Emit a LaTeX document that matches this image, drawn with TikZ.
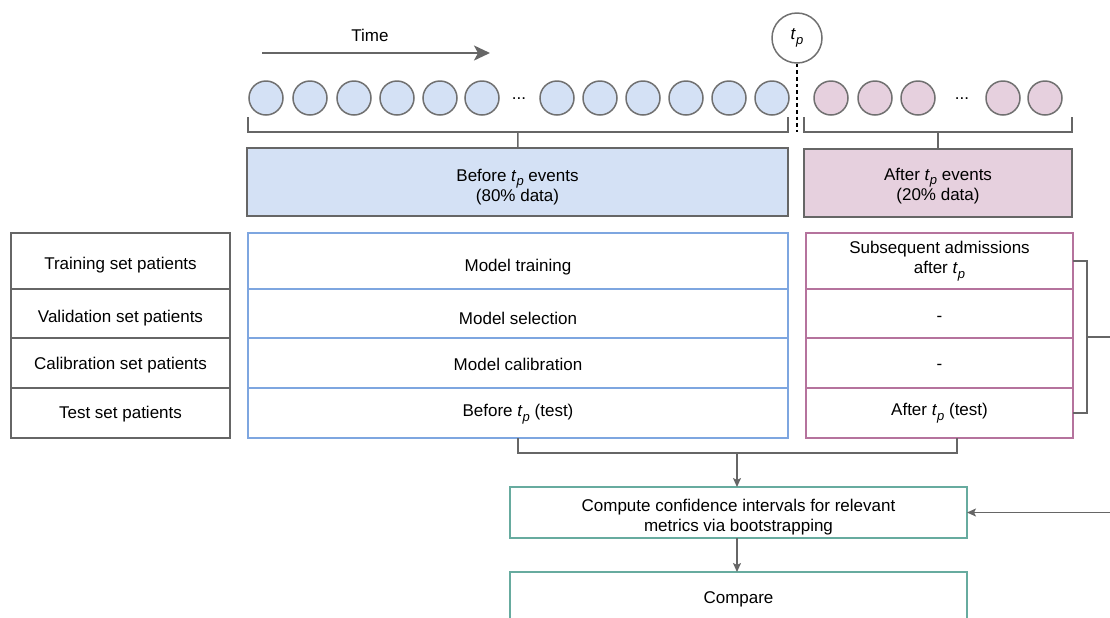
\documentclass[tikz,border=0pt]{standalone}
\usepackage{fontspec}
\setmainfont{Liberation Sans}
\usetikzlibrary{arrows.meta}
\definecolor{linegray}{HTML}{666666}
\definecolor{dotgray}{HTML}{707070}
\definecolor{eventblue}{HTML}{D4E1F5}
\definecolor{eventpink}{HTML}{E6D0DE}
\definecolor{splitblue}{HTML}{7EA6E0}
\definecolor{splitpink}{HTML}{B5739D}
\definecolor{teal}{HTML}{67AB9F}
\newcommand{\tp}{\textit{t}\raisebox{-0.5ex}{\fontsize{6.5}{6.5}\selectfont\itshape p}}
\newcommand{\cell}[8][-2.5pt]{% zamik besedila, ime, x levo, y zgoraj, x desno, y spodaj, slog, besedilo
 \pgfmathsetmacro{\Wd}{(#5-#3)/2}
 \pgfmathsetmacro{\Ht}{(#6-#4)/2}
 \node[#7, minimum width=\Wd pt, minimum height=\Ht pt] (#2) at ({(#3+#5)/2},{(#4+#6)/2}) {};
 \node[align=center, inner sep=0pt, yshift=#1] (#2txt) at (#2.center) {#8};
}
\begin{document}
\begin{tikzpicture}[x=0.5pt,y=-0.5pt,font=\fontsize{8.5}{10}\selectfont,
	dot/.style={circle,draw=dotgray,line width=0.75pt,minimum size=17pt,inner sep=0pt},
	bluedot/.style={dot,fill=eventblue},
	pinkdot/.style={dot,fill=eventpink},
	cellbox/.style={draw,line width=0.6pt,inner sep=0pt,outer sep=0pt},
	link/.style={draw=linegray,line width=0.75pt},
	arr/.style={link,-{Stealth[length=4.5pt,width=4pt,inset=1pt]}}]
	\useasboundingbox (0,0) rectangle (1110,617);

	% os casa
	\coordinate (t0) at (262,53);
	\coordinate (t1) at (490,53);
	\node (time) at (370,35) {Time};
	\draw[draw=linegray,line width=1pt,-{Stealth[length=8pt,width=7.5pt,inset=2pt]}] (t0) -- (t1);

	% dogodki pred in po t_p
	\foreach \x [count=\i] in {266,310,354,397,440,482,557,600,643,686,729,772}
		\node[bluedot] (b\i) at (\x,98) {};
	\foreach \x [count=\i] in {831,875,918,1003,1045}
		\node[pinkdot] (p\i) at (\x,98) {};
	\node (bdots) at (519,99) {...};
	\node (pdots) at (962,99) {...};

	\node[circle,draw=dotgray,line width=0.75pt,minimum size=25pt,inner sep=0pt] (tp) at (797,38) {\tp};
	\coordinate (tpend) at (797,132);
	\draw[line width=0.75pt,dash pattern=on 1.8pt off 1.5pt] (tp) -- (tpend);

	\cell{before}{247}{148}{788}{216}{cellbox,draw=linegray,line width=0.75pt,fill=eventblue}{Before \tp{} events\\(80\% data)}
	\cell[-1.5pt]{after}{804}{149}{1072}{217}{cellbox,draw=linegray,line width=0.75pt,fill=eventpink}{After \tp{} events\\(20\% data)}

	% oklepaja
	\coordinate (lb) at (518,132);
	\coordinate (rb) at (938,132);
	\draw[link] (248,117) |- (788,132) -- (788,117);
	\draw[link] (804,117) |- (1072,132) -- (1072,117);
	\draw[link] (lb) -- (before);
	\draw[link] (rb) -- (after);

	% tabela
	\cell[-2pt]{set1}{11}{233}{230}{289}{cellbox,draw=linegray}{Training set patients}
	\cell[-2.5pt]{set2}{11}{289}{230}{338}{cellbox,draw=linegray}{Validation set patients}
	\cell[-1pt]{set3}{11}{338}{230}{388}{cellbox,draw=linegray}{Calibration set patients}
	\cell[-0.5pt]{set4}{11}{388}{230}{438}{cellbox,draw=linegray}{Test set patients}

	\cell[-3pt]{blue1}{248}{233}{788}{289}{cellbox,draw=splitblue}{Model training}
	\cell[-2.5pt]{blue2}{248}{289}{788}{338}{cellbox,draw=splitblue}{Model selection}
	\cell[-0.5pt]{blue3}{248}{338}{788}{388}{cellbox,draw=splitblue}{Model calibration}
	\cell[-0.5pt]{blue4}{248}{388}{788}{438}{cellbox,draw=splitblue}{Before \tp{} (test)}

	\cell[0pt]{pink1}{806}{233}{1073}{289}{cellbox,draw=splitpink}{Subsequent admissions\\after \tp}
	\cell[-2.5pt]{pink2}{806}{289}{1073}{338}{cellbox,draw=splitpink}{-}
	\cell[-2pt]{pink3}{806}{338}{1073}{388}{cellbox,draw=splitpink}{-}
	\cell[0pt]{pink4}{806}{388}{1073}{438}{cellbox,draw=splitpink}{After \tp{} (test)}

	\cell{ci}{510}{487}{967}{538}{cellbox,draw=teal}{Compute confidence intervals for relevant\\metrics via bootstrapping}
	\cell[-1pt]{cmp}{510}{572}{967}{622}{cellbox,draw=teal}{Compare}

	% povezave
	\coordinate (join) at (737,453);
	\coordinate (pinkfoot) at (957,438);
	\coordinate (loop) at (1087,337);
	\draw[link] (blue4.south) |- (join) -| (pinkfoot);
	\draw[arr] (join) -- (join |- ci.north);
	\draw[arr] (join |- ci.south) -- (join |- cmp.north);
	\draw[link] (pink1.east) -| (loop) |- (pink4.east);
	\draw[arr] (loop) -- ++(40,0) |- (ci.east);
\end{tikzpicture}
\end{document}
